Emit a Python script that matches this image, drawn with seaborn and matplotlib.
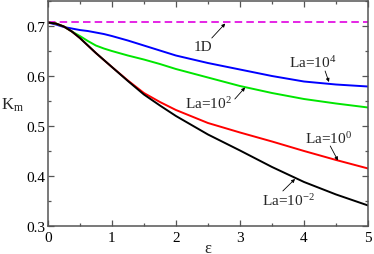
import matplotlib

matplotlib.use("Agg")
import matplotlib.pyplot as plt
import matplotlib.ticker as mticker
import pandas as pd
import seaborn as sns

# data (Km versus epsilon)
EPS = [0, 0.125, 0.25, 0.375, 0.5, 0.625, 0.75, 0.875, 1.0, 1.25, 1.5, 1.75,
       2.0, 2.5, 3.0, 3.5, 4.0, 4.5, 5.0]
KM_LA_1E4 = [0.707, 0.703, 0.698, 0.695, 0.692, 0.690, 0.687, 0.684, 0.680,
             0.671, 0.661, 0.651, 0.641, 0.626, 0.613, 0.600, 0.589, 0.583, 0.579]
KM_LA_1E2 = [0.707, 0.705, 0.699, 0.689, 0.680, 0.670, 0.661, 0.655, 0.650,
             0.641, 0.633, 0.624, 0.614, 0.597, 0.580, 0.566, 0.554, 0.545, 0.537]
KM_LA_1E0 = [0.707, 0.705, 0.699, 0.689, 0.676, 0.661, 0.646, 0.632, 0.618,
             0.591, 0.566, 0.548, 0.532, 0.506, 0.487, 0.469, 0.450, 0.432, 0.415]
KM_LA_1EM2 = [0.707, 0.705, 0.699, 0.689, 0.676, 0.661, 0.646, 0.632, 0.618,
              0.590, 0.563, 0.541, 0.520, 0.483, 0.451, 0.418, 0.388, 0.363, 0.341]
EPS_1D = [0, 5]
KM_1D = [0.7071, 0.7071]

SERIES = ["La=1e4", "La=1e2", "La=1e0", "La=1e-2"]
COLORS = {"La=1e4": "#0000ff", "La=1e2": "#00e600", "La=1e0": "#ff0000", "La=1e-2": "#000000"}

# label text, text position, arrow tail, arrow tip
LABELS = [
    ("1D", (2.42, 0.659), (2.56, 0.676), (2.77, 0.705)),
    ("La=10$^{4}$", (4.13, 0.628), (4.33, 0.610), (4.39, 0.588)),
    ("La=10$^{2}$", (2.50, 0.546), (2.92, 0.554), (3.08, 0.577)),
    ("La=10$^{0}$", (4.38, 0.476), (4.41, 0.460), (4.53, 0.431)),
    ("La=10$^{-2}$", (3.75, 0.352), (3.67, 0.370), (3.86, 0.394)),
]


def main():
    sns.set_style("ticks", {"xtick.direction": "in", "ytick.direction": "in"})
    plt.rcParams["font.family"] = ["Liberation Serif", "DejaVu Serif"]
    plt.rcParams["mathtext.fontset"] = "custom"
    plt.rcParams["mathtext.rm"] = "Liberation Serif"
    plt.rcParams["mathtext.it"] = "Liberation Serif:italic"

    frames = []
    for name, vals in zip(SERIES, [KM_LA_1E4, KM_LA_1E2, KM_LA_1E0, KM_LA_1EM2]):
        frames.append(pd.DataFrame({"eps": EPS, "Km": vals, "series": name}))
    df = pd.concat(frames, ignore_index=True)
    df_1d = pd.DataFrame({"eps": EPS_1D, "Km": KM_1D})

    fig = plt.figure(figsize=(3.74, 2.55), dpi=100)
    ax = fig.add_axes([0.128, 0.110, 0.856, 0.882])

    sns.lineplot(data=df_1d, x="eps", y="Km", ax=ax, color="#e000e0",
                 linewidth=1.2, dashes=False, linestyle=(0, (4.5, 2.5)))
    sns.lineplot(data=df, x="eps", y="Km", hue="series", hue_order=SERIES,
                 palette=COLORS, ax=ax, linewidth=1.4, legend=False,
                 estimator=None, sort=False)

    # labels with small arrows pointing at the curves
    for text, xy_text, xy_tail, xy_tip in LABELS:
        ax.text(*xy_text, text, fontsize=11, ha="center", va="center")
        ax.annotate("", xy=xy_tip, xytext=xy_tail,
                    arrowprops=dict(arrowstyle="-|>", color="black", lw=0.6,
                                    mutation_scale=5, shrinkA=0, shrinkB=0))

    ax.set(xlim=(0, 5), ylim=(0.3, 0.75))
    ax.xaxis.set_major_locator(mticker.MultipleLocator(1))
    ax.xaxis.set_minor_locator(mticker.MultipleLocator(0.5))
    ax.yaxis.set_major_locator(mticker.FixedLocator([0.3, 0.4, 0.5, 0.6, 0.7]))
    ax.yaxis.set_minor_locator(mticker.MultipleLocator(0.05))
    ax.xaxis.set_major_formatter(mticker.FormatStrFormatter("%g"))
    ax.yaxis.set_major_formatter(mticker.FormatStrFormatter("%.1f"))

    spine_col = "#555555"
    for side in ax.spines.values():
        side.set_color(spine_col)
        side.set_linewidth(1.1)
    ax.tick_params(which="both", direction="in", top=True, right=True,
                   color=spine_col, labelsize=11, labelcolor="black")
    ax.tick_params(which="major", length=4, width=0.9)
    ax.tick_params(which="minor", length=2.5, width=0.9)
    ax.tick_params(axis="x", pad=3.5)
    ax.tick_params(axis="y", pad=2)

    ax.set_xlabel("ε", fontsize=12, labelpad=-3)
    ax.set_ylabel("K$_{\\rm m}$", fontsize=12, rotation=0, labelpad=10)

    fig.savefig("out.png", dpi=100)


if __name__ == "__main__":
    main()
